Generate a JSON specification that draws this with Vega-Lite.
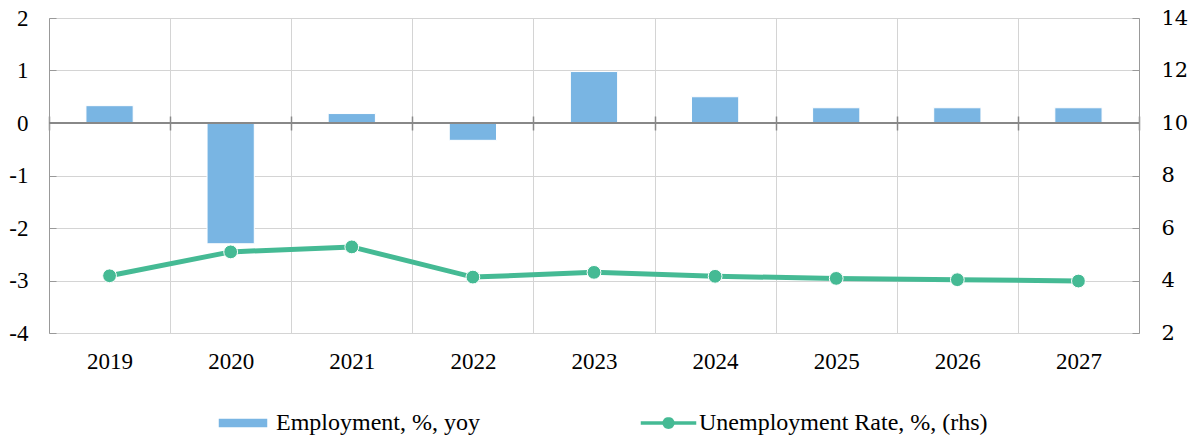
{
  "$schema": "https://vega.github.io/schema/vega-lite/v6.json",
  "autosize": "none",
  "width": 1090,
  "height": 315,
  "padding": {"left": 49, "top": 18, "right": 53, "bottom": 106},
  "background": "white",
  "config": {
    "view": {"stroke": null},
    "font": "Liberation Serif",
    "axis": {"labelFont": "Liberation Serif", "labelColor": "#000000", "gridColor": "#d4d4d4", "gridWidth": 1, "domainColor": "#999999", "tickColor": "#999999"},
    "legend": {"labelFont": "Liberation Serif", "labelColor": "#000000", "labelLimit": 500}
  },
  "data": {
    "values": [
      {"year": "2019", "employment": 0.33, "unemployment": 4.18},
      {"year": "2020", "employment": -2.3, "unemployment": 5.09},
      {"year": "2021", "employment": 0.18, "unemployment": 5.28},
      {"year": "2022", "employment": -0.33, "unemployment": 4.13},
      {"year": "2023", "employment": 0.98, "unemployment": 4.31},
      {"year": "2024", "employment": 0.5, "unemployment": 4.16},
      {"year": "2025", "employment": 0.29, "unemployment": 4.08},
      {"year": "2026", "employment": 0.29, "unemployment": 4.03},
      {"year": "2027", "employment": 0.29, "unemployment": 3.98}
    ]
  },
  "layer": [
    {
      "layer": [
        {
          "mark": {"type": "bar", "width": {"band": 0.39}, "stroke": "white", "strokeWidth": 1},
          "encoding": {
            "x": {"field": "year", "type": "ordinal", "title": null,
              "scale": {"paddingInner": 0, "paddingOuter": 0},
              "axis": {"orient": "bottom", "grid": true, "tickBand": "extent", "ticks": false, "domain": false, "labelAngle": 0, "labelFont": "Liberation Serif", "labelFontSize": 23, "labelPadding": 17}},
            "y": {"field": "employment", "type": "quantitative", "title": null,
              "scale": {"domain": [-4, 2], "nice": false, "zero": false},
              "axis": {"orient": "left", "values": [-4, -3, -2, -1, 0, 1, 2], "labelExpr": "'' + datum.value", "grid": true, "tickSize": -7, "labelPadding": 28, "labelFont": "serif", "labelFontSize": 23, "domainColor": "#999999"}},
            "fill": {"datum": "Employment, %, yoy", "type": "nominal",
              "scale": {"range": ["#79B5E3"]},
              "legend": {"orient": "none", "legendX": 168, "legendY": 379, "title": null, "labelFont": "Liberation Serif", "labelFontSize": 24, "labelLimit": 500, "labelOffset": 7, "padding": 0,
                "symbolType": "M-1,-0.2H1V0.2H-1Z", "symbolSize": 2500,
                "encode": {"symbols": {"update": {"size": {"value": 2500}, "fill": {"value": "#79B5E3"}, "stroke": {"value": "transparent"}}}}}}
          }
        },
        {
          "mark": {"type": "rule", "color": "#888888", "strokeWidth": 1.5},
          "encoding": {"y": {"datum": 0, "type": "quantitative"}}
        }
      ]
    },
    {
      "layer": [
        {
          "mark": {"type": "line", "color": "#45BA94", "strokeWidth": 5},
          "encoding": {
            "x": {"field": "year", "type": "ordinal", "title": null,
              "axis": {"orient": "top", "offset": -112, "labels": false, "grid": false, "domain": false, "ticks": true, "tickBand": "extent", "tickSize": 14, "tickColor": "#888888", "tickWidth": 1.5}},
            "y": {"field": "unemployment", "type": "quantitative", "title": null,
              "scale": {"domain": [2, 14], "nice": false, "zero": false},
              "axis": {"orient": "right", "values": [2, 4, 6, 8, 10, 12, 14], "labelExpr": "'' + datum.value", "grid": false, "tickSize": -7, "labelPadding": 29, "labelFont": "DejaVu Serif", "labelFontSize": 21, "domainColor": "#999999"}}
          }
        },
        {
          "mark": {"type": "point", "filled": true, "size": 190, "stroke": "white", "strokeWidth": 1, "opacity": 1},
          "encoding": {
            "x": {"field": "year", "type": "ordinal", "title": null,
              "axis": {"orient": "top", "offset": -112, "labels": false, "grid": false, "domain": false, "ticks": true, "tickBand": "extent", "tickSize": 14, "tickColor": "#888888", "tickWidth": 1.5}},
            "y": {"field": "unemployment", "type": "quantitative", "title": null,
              "scale": {"domain": [2, 14], "nice": false, "zero": false},
              "axis": {"orient": "right", "values": [2, 4, 6, 8, 10, 12, 14], "labelExpr": "'' + datum.value", "grid": false, "tickSize": -7, "labelPadding": 29, "labelFont": "DejaVu Serif", "labelFontSize": 21, "domainColor": "#999999"}},
            "color": {"datum": "Unemployment Rate, %, (rhs)", "type": "nominal",
              "scale": {"range": ["#45BA94"]},
              "legend": {"orient": "none", "legendX": 590, "legendY": 375.5, "title": null, "labelFont": "Liberation Serif", "labelFontSize": 24, "labelLimit": 500, "labelOffset": 1, "padding": 0,
                "symbolType": "M-1,-0.09L-0.2225,-0.09L-0.1697,-0.1697L-0.0918,-0.2217L0,-0.24L0.0918,-0.2217L0.1697,-0.1697L0.2225,-0.09L1,-0.09L1,0.09L0.2225,0.09L0.1697,0.1697L0.0918,0.2217L0,0.24L-0.0918,0.2217L-0.1697,0.1697L-0.2225,0.09L-1,0.09Z",
                "symbolSize": 3249,
                "encode": {"symbols": {"update": {"size": {"value": 3249}, "fill": {"value": "#45BA94"}, "stroke": {"value": "transparent"}, "opacity": {"value": 1}}}}}}
          }
        }
      ]
    }
  ],
  "resolve": {"scale": {"y": "independent", "color": "independent", "fill": "independent"}, "axis": {"x": "independent"}}
}
